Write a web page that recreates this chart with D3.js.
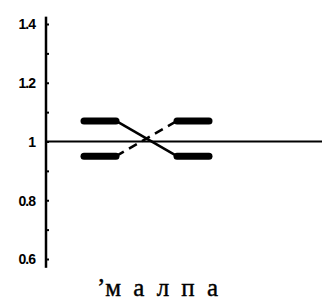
<!DOCTYPE html>
<html>
<head>
<meta charset="utf-8">
<script src="https://cdn.jsdelivr.net/npm/d3@7"></script>
<style>
  body { margin: 0; background: #fff; }
  svg { display: block; }
  .ylab text { font-family: 'Liberation Sans', sans-serif; font-weight: bold; font-size: 14px; letter-spacing: -1px; }
</style>
</head>
<body>
<div id="chart"></div>
<script>
// data
const positions = ['left', 'right'];
const solidSeries = [1.07, 0.95];
const dashedSeries = [0.95, 1.07];
const baseline = 1;
const yTicks = [0.6, 0.8, 1, 1.2, 1.4];
const yTickLabels = ['0.6', '0.8', '1', '1.2', '1.4'];
const minorTicks = [0.6, 0.7, 0.8, 0.9, 1, 1.1, 1.2, 1.3, 1.4];
const categoryMark = '’';
const categoryLabel = 'малпа';

const width = 324;
const height = 302;
const axisX = 46;
const barHalf = 16;

const svg = d3.select('#chart').append('svg')
  .attr('width', width)
  .attr('height', height);

/* Scales */
const x = d3.scalePoint()
  .domain(positions)
  .range([100, 193]);

const y = d3.scaleLinear()
  .domain([0.6, 1.4])
  .range([259, 24]);

/* Y axis: spine + small ticks on the right */
svg.append('line')
  .attr('x1', axisX).attr('x2', axisX)
  .attr('y1', y(1.425)).attr('y2', y(0.57))
  .attr('stroke', '#000')
  .attr('stroke-width', 2.5);

const minor = svg.append('g')
  .attr('transform', `translate(${axisX},0)`)
  .call(d3.axisRight(y).tickValues(minorTicks).tickSize(3).tickFormat(''));
minor.select('.domain').remove();
minor.selectAll('line').attr('stroke-width', 2);

const labels = svg.append('g')
  .attr('class', 'ylab')
  .attr('transform', `translate(35,0)`)
  .call(d3.axisLeft(y).tickValues(yTicks).tickSize(0).tickPadding(0)
    .tickFormat((d, i) => yTickLabels[i]));
labels.select('.domain').remove();
labels.selectAll('text').attr('dy', '0.35em');

/* Reference line at 1 */
svg.append('line')
  .attr('x1', axisX).attr('x2', 322)
  .attr('y1', y(baseline)).attr('y2', y(baseline))
  .attr('stroke', '#000')
  .attr('stroke-width', 2);

/* Series */
function drawSeries(values, dash) {
  const g = svg.append('g');
  g.selectAll('line.bar')
    .data(values).enter()
    .append('line')
    .attr('class', 'bar')
    .attr('x1', (d, i) => x(positions[i]) - barHalf)
    .attr('x2', (d, i) => x(positions[i]) + barHalf)
    .attr('y1', d => y(d))
    .attr('y2', d => y(d))
    .attr('stroke', '#000')
    .attr('stroke-width', 7)
    .attr('stroke-linecap', 'round');

  g.append('line')
    .attr('x1', x(positions[0]) + barHalf)
    .attr('y1', y(values[0]))
    .attr('x2', x(positions[1]) - barHalf)
    .attr('y2', y(values[1]))
    .attr('stroke', '#000')
    .attr('stroke-width', 2.5)
    .attr('stroke-dasharray', dash);
}

drawSeries(solidSeries, null);
drawSeries(dashedSeries, '9,6');

/* Category label: spread letters between left 97 and right 218 */
const labelLeft = 97;
const labelRight = 218;
const label = svg.append('text')
  .attr('x', labelLeft)
  .attr('y', 296)
  .attr('font-family', 'Liberation Serif, serif')
  .attr('font-size', 25)
  .attr('stroke', '#000')
  .attr('stroke-width', 0.4);
label.append('tspan').text(categoryMark);
const word = label.append('tspan').text(categoryLabel);
const natural = label.node().getComputedTextLength();
const gap = (labelRight - labelLeft - natural) / (categoryLabel.length - 1);
word.attr('letter-spacing', gap);
</script>
</body>
</html>
